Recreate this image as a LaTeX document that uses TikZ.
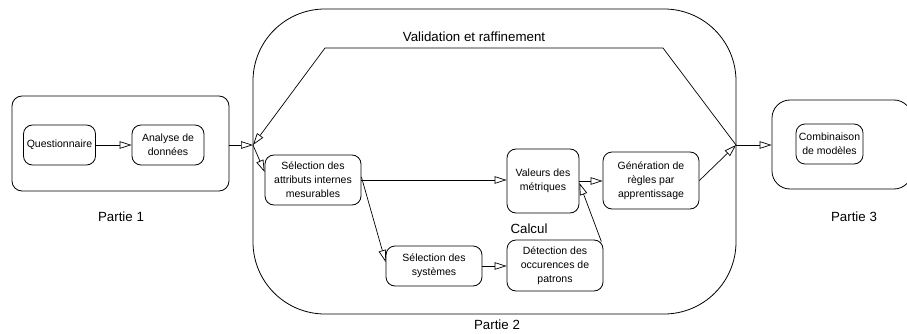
\documentclass[tikz,border=0pt]{standalone}
\usepackage{fontspec}
\setmainfont{Liberation Sans}
\usetikzlibrary{arrows.meta}
\begin{document}
\begin{tikzpicture}[x=1pt,y=-1pt,
  box/.style={draw, rounded corners=9pt, line width=0.8pt, align=center,
    font=\fontsize{10.5}{14}\selectfont, inner sep=0pt},
  cont/.style={draw, line width=0.8pt, inner sep=0pt},
  lbl/.style={font=\fontsize{13.3}{15}\selectfont, inner sep=0pt},
  arr/.style={-{Triangle[open,length=12pt,width=7.5pt,line width=0.7pt]}, line width=0.7pt},
  ln/.style={line width=0.7pt}]
\useasboundingbox[fill=white] (0,0) rectangle (907,334);
% containers
\node[cont, rounded corners=10pt, minimum width=217pt, minimum height=95pt] (p1) at (120.5,143.5) {};
\node[cont, rounded corners=72pt, minimum width=483pt, minimum height=305pt] (p2) at (494.5,161.5) {};
\node[cont, rounded corners=18pt, minimum width=140pt, minimum height=89pt] (p3) at (842,144.5) {};
% boxes
\node[box, minimum width=72pt, minimum height=40pt] (q) at (59.5,145) {Questionnaire};
\node[box, minimum width=72pt, minimum height=40pt] (a) at (168,145) {Analyse de\\données};
\node[box, minimum width=96pt, minimum height=50pt] (sel) at (313,180) {Sélection des\\attributs internes\\mesurables};
\node[box, minimum width=72pt, minimum height=64pt] (val) at (543,181) {Valeurs des\\métriques};
\node[box, minimum width=96pt, minimum height=57pt] (gen) at (651,180.5) {Génération de\\règles par\\apprentissage};
\node[box, minimum width=96pt, minimum height=40pt] (sys) at (434,266) {Sélection des\\systèmes};
\node[box, minimum width=96pt, minimum height=51pt] (det) at (555,265.5) {Détection des\\occurences de\\patrons};
\node[box, minimum width=67pt, minimum height=40pt] (comb) at (829.5,144) {Combinaison\\de modèles};
% labels
\node[lbl] (l1) at (121,217) {Partie 1};
\node[lbl] (l2) at (497,325) {Partie 2};
\node[lbl] (l3) at (854,217) {Partie 3};
\node[lbl] (lc) at (529,229) {Calcul};
\node[lbl] (lv) at (474,37) {Validation et raffinement};
% junctions
\coordinate (jL) at (253,145);
\coordinate (jR) at (736,145);
\coordinate (v1) at (325,48);
\coordinate (v2) at (663,48);
% connectors
\draw[arr] (q.east) -- (a.west);
\draw[arr] (p1.east |- jL) -- (jL);
\draw[arr] (jR) -- (v2) -- (v1) -- (jL);
\draw[arr] (jL) -- ([yshift=8pt]sel.west);
\draw[arr] (sel.east) -- (sel.east -| val.west);
\draw[arr] (val.east) -- (val.east -| gen.west);
\draw[arr] (gen.east) -- (jR);
\draw[arr] (jR) -- (jR -| p3.west);
\draw[arr] ([yshift=3pt]sel.east) -- ([yshift=4pt]sys.west);
\draw[arr] (sys.east) -- (sys.east -| det.west);
\draw[arr] ([xshift=-2pt,yshift=-2pt]det.north east) -- ([yshift=-2pt]val.east);
\end{tikzpicture}
\end{document}
